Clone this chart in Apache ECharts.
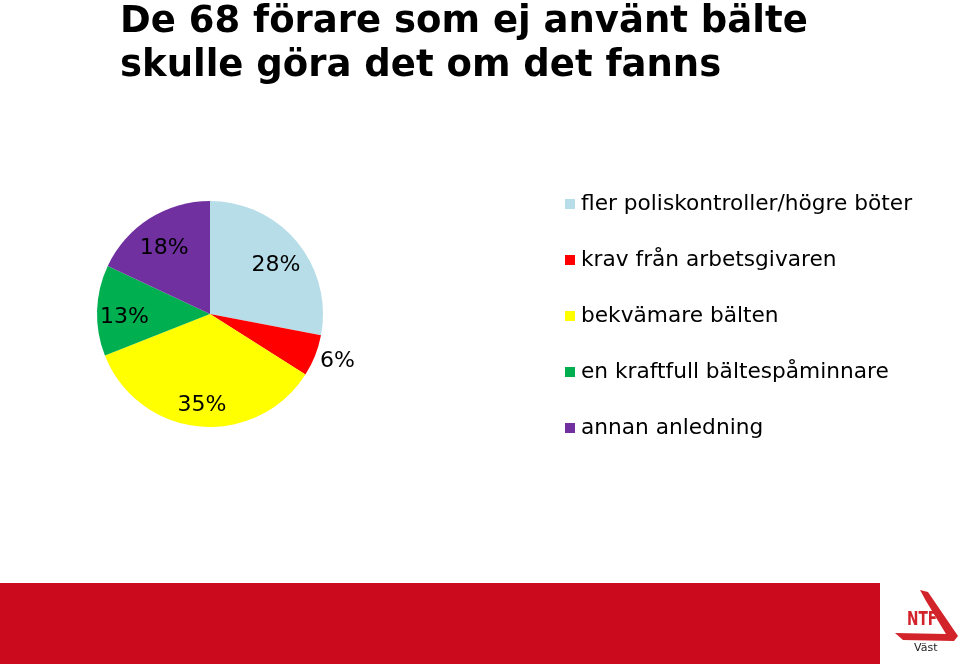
<!DOCTYPE html>
<html><head><meta charset="utf-8">
<script src="https://cdn.jsdelivr.net/npm/echarts@6/dist/echarts.min.js"></script>
<style>html,body{margin:0;padding:0;background:#fff}#c{width:960px;height:664px}</style>
</head><body><div id="c"></div>
<script>
var categories = ['fler poliskontroller/högre böter','krav från arbetsgivaren','bekvämare bälten','en kraftfull bältespåminnare','annan anledning'];
var values = [28, 6, 35, 13, 18];
var colors = ['#B7DDE8','#FF0000','#FFFF00','#00B050','#7030A0'];

var chart = echarts.init(document.getElementById('c'), null, {renderer:'canvas'});
var baseData = categories.map(function(n,i){ return {name:n, value:values[i], itemStyle:{color:colors[i]}}; });
var labelData = categories.map(function(n,i){
  var d = {name:n, value:values[i]};
  if (values[i] < 10) {
    d.label = {position:'outside'};
    d.labelLine = {show:false, length:0, length2:0};
  }
  return d;
});
chart.setOption({
  animation:false,
  title:{text:'De 68 förare som ej använt bälte\nskulle göra det om det fanns', left:115, top:-5,
    textStyle:{fontFamily:'DejaVu Sans', fontWeight:'bold', fontSize:37, lineHeight:44, color:'#000'}},
  legend:{orient:'vertical', left:560, top:188, itemWidth:10, itemHeight:10, itemGap:34,
    icon:'rect', data:categories, selectedMode:false,
    textStyle:{fontFamily:'DejaVu Sans', fontSize:21.7, lineHeight:22, color:'#000', padding:[0,0,0,1]}},
  series:[
    {type:'pie', center:[210,314], radius:[0,113], startAngle:90, clockwise:true, silent:true,
     label:{show:false}, labelLine:{show:false}, data:baseData},
    {type:'pie', center:[210,314], radius:[52,113], startAngle:90, clockwise:true, silent:true,
     itemStyle:{color:'rgba(0,0,0,0)'}, legendHoverLink:false,
     label:{show:true, position:'inside', formatter:'{c}%', fontFamily:'DejaVu Sans', fontSize:22, color:'#000', offset:[0,6]},
     labelLine:{show:false}, data:labelData}
  ],
  graphic:[
    {type:'rect', shape:{x:0,y:583,width:880,height:81}, style:{fill:'#CC0A1E'}},
    {type:'polygon', shape:{points:[[920,590],[928,592],[958,636],[954,641],[903,640],[895,633],[946,634],[926,601]]}, style:{fill:'#D2232A'}},
    {type:'text', x:907, y:611, scaleX:0.72, style:{text:'NTF', fontFamily:'DejaVu Sans', fontWeight:'bold', fontSize:19, fill:'#D2232A'}},
    {type:'text', x:914, y:643, style:{text:'Väst', fontFamily:'DejaVu Sans', fontSize:11, fill:'#222'}}
  ]
});
</script></body></html>
